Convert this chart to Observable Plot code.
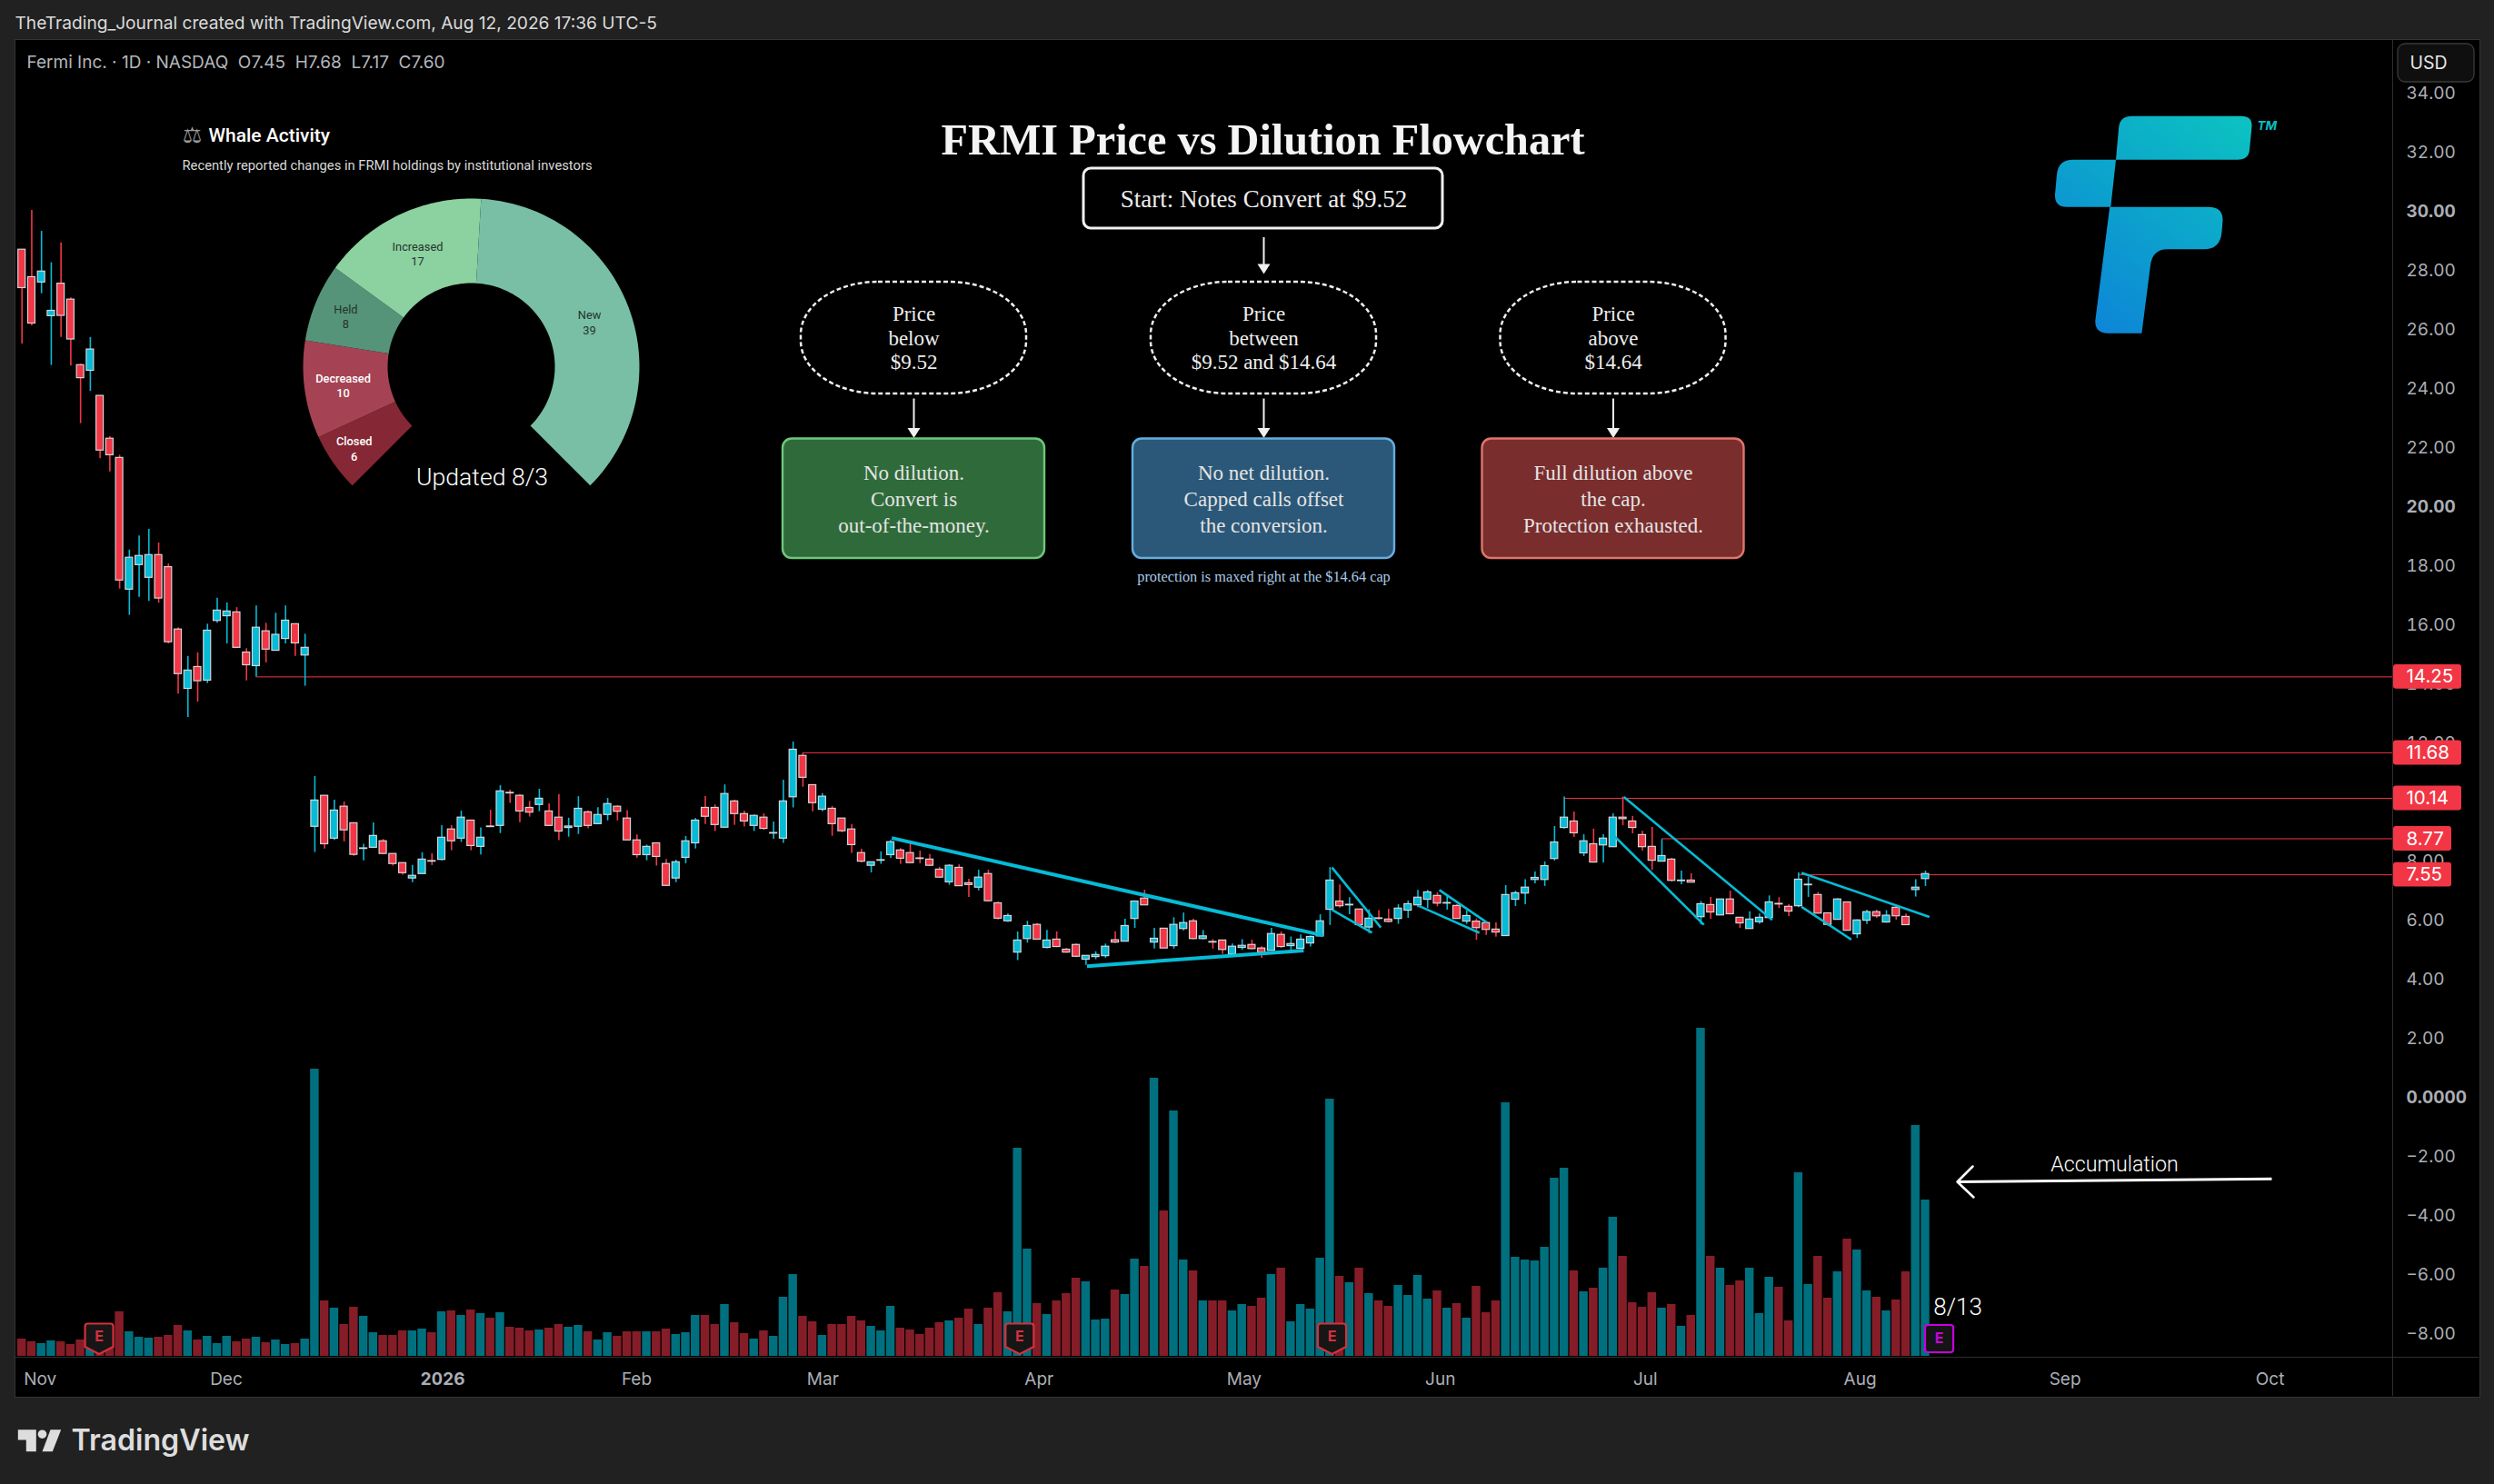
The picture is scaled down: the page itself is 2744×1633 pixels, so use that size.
<!DOCTYPE html>
<html><head><meta charset="utf-8">
<script src="https://cdn.jsdelivr.net/npm/d3@7"></script>
<script src="https://cdn.jsdelivr.net/npm/@observablehq/plot@0.6"></script>
<style>
html,body{margin:0;padding:0;background:#212121;overflow:hidden}
#page{position:relative;width:2744px;height:1633px;background:#212121}
#panel{position:absolute;left:16px;top:43px;width:2711px;height:1493px;background:#000;border:1px solid #333}
#page svg{position:absolute;left:0;top:0}
</style></head><body><div id="page"><div id="panel"></div></div>
<script>
// ---- Daily candles (USD) ----
const opens=[28.67,27.74,27.56,26.42,27.52,26.98,24.76,24.57,23.72,22.27,
21.62,17.16,17.99,17.56,18.33,17.92,15.81,13.80,14.54,14.08,
16.10,16.26,16.39,15.03,14.57,15.75,15.09,15.49,15.99,14.93,
9.13,10.18,8.73,9.81,9.25,8.38,8.42,8.64,8.21,7.90,
7.38,7.53,7.97,8.01,9.04,8.73,9.34,8.45,9.14,9.16,
10.28,10.18,9.77,9.87,9.65,9.44,9.09,9.13,9.62,9.22,
9.53,9.81,9.41,8.67,8.17,8.57,7.87,7.38,8.08,8.57,
9.77,9.77,9.10,9.99,9.56,9.16,9.44,8.90,8.73,10.13,
11.53,10.54,9.71,9.74,9.41,9.04,8.24,7.81,7.98,8.17,
8.33,8.24,8.06,8.02,7.68,7.25,7.74,7.22,7.07,7.53,
6.54,5.93,4.87,5.33,5.81,5.03,5.31,4.97,5.13,4.63,
4.72,4.75,5.29,5.24,6.01,6.70,5.21,5.68,5.09,5.67,
5.93,5.33,5.23,5.28,4.81,5.03,5.13,5.01,4.93,5.47,
5.09,5.00,5.18,5.42,6.32,6.60,6.47,6.33,5.72,6.03,
5.99,6.01,6.29,6.47,6.66,6.79,6.53,6.45,5.92,5.92,
5.87,5.65,5.43,6.66,6.87,7.33,7.33,8.04,9.09,9.31,
8.23,8.54,8.50,8.44,9.44,9.31,8.85,8.45,7.95,8.02,
7.29,7.31,6.07,6.48,6.13,6.67,6.05,5.67,5.90,6.04,
6.52,6.42,6.44,7.15,6.82,6.20,5.98,6.57,5.49,5.95,
6.24,5.89,6.39,6.08,6.99,7.36];
const closes=[27.37,26.17,27.93,26.60,26.43,25.63,24.32,25.29,21.87,21.71,
17.47,18.24,18.30,18.33,16.86,15.38,14.30,14.42,14.06,15.77,
16.45,16.42,15.19,14.60,15.87,15.13,15.63,16.11,15.34,15.19,
10.02,8.54,9.68,9.01,8.18,8.40,8.82,8.21,7.87,7.56,
7.47,8.02,7.95,8.76,8.64,9.44,8.48,8.76,9.12,10.33,
10.26,9.65,9.61,10.08,9.16,8.97,9.14,9.74,9.16,9.53,
9.90,9.64,8.67,8.17,8.45,8.11,7.13,7.93,8.64,9.34,
9.47,9.19,10.24,9.56,9.31,9.50,9.06,8.92,9.99,11.74,
10.79,9.93,10.15,9.22,8.98,8.51,7.95,7.93,8.00,8.61,
8.05,7.90,8.04,7.81,7.41,7.81,7.12,7.16,7.41,6.61,
6.02,6.11,5.28,5.77,5.31,5.28,5.06,4.87,4.73,4.76,
4.79,5.07,5.21,5.77,6.60,6.47,5.34,5.01,5.81,5.87,
5.33,5.42,5.21,4.96,5.07,5.10,4.99,4.87,5.50,5.06,
5.16,5.31,5.40,5.93,7.31,6.44,6.49,5.80,6.02,6.01,
5.91,6.36,6.51,6.73,6.91,6.53,6.55,6.01,6.11,5.70,
5.64,5.55,6.82,6.88,7.07,7.40,7.80,8.60,9.44,8.91,
8.64,7.92,8.73,9.44,9.39,9.09,8.44,7.98,8.14,7.30,
7.31,7.24,6.51,6.23,6.67,6.17,5.86,5.99,6.05,6.57,
6.50,6.26,7.34,7.17,6.19,5.81,6.67,5.61,5.96,6.24,
6.10,6.12,6.10,5.80,7.07,7.53];
const highs=[28.67,30.00,29.29,28.23,28.90,27.04,24.79,25.70,23.72,22.34,
21.71,18.50,18.98,19.20,18.74,18.03,15.87,14.90,15.02,15.99,
16.87,16.71,16.55,15.16,16.61,16.02,16.36,16.61,15.99,15.65,
10.83,10.18,10.03,9.97,9.26,8.54,9.26,8.70,8.22,7.91,
7.82,8.25,8.22,9.17,9.17,9.66,9.34,9.09,9.69,10.52,
10.37,10.22,9.99,10.40,9.91,10.22,9.42,10.15,9.67,9.78,
10.09,9.84,9.68,8.85,8.51,8.57,8.02,8.00,8.80,9.41,
10.15,9.87,10.55,10.03,9.66,9.53,9.57,9.29,10.71,12.00,
11.62,10.54,10.25,9.82,9.41,9.21,8.37,7.93,8.28,8.67,
8.39,8.65,8.31,8.19,7.76,7.85,7.84,7.35,7.66,7.66,
6.58,6.18,5.57,5.93,5.85,5.62,5.57,5.01,5.16,4.76,
4.90,5.16,5.57,6.00,6.62,6.98,5.69,5.69,6.05,6.21,
6.00,5.62,5.31,5.29,5.16,5.31,5.29,5.07,5.69,5.57,
5.40,5.47,5.44,6.15,7.75,7.16,6.73,6.34,6.32,6.29,
6.34,6.49,6.62,6.98,6.98,6.90,6.77,6.49,6.29,6.01,
5.88,5.88,7.14,6.95,7.34,7.60,7.94,9.14,10.14,9.63,
8.86,9.05,8.86,9.57,10.14,9.48,8.98,9.11,8.70,8.06,
7.63,7.54,6.60,6.74,6.68,6.95,6.06,6.25,6.18,6.79,
6.73,6.49,7.57,7.42,6.91,6.21,6.70,6.58,5.98,6.31,
6.31,6.29,6.44,6.18,7.34,7.63];
const lows=[25.48,26.09,27.18,24.75,25.70,24.73,22.78,23.87,21.59,21.15,
17.18,16.29,16.90,16.76,16.70,15.32,13.62,12.83,13.35,13.98,
16.02,15.32,15.19,14.07,14.20,14.68,15.09,15.32,14.90,13.89,
8.26,8.38,8.67,8.62,8.13,7.98,8.41,8.20,7.80,7.49,
7.24,7.52,7.82,7.98,8.32,8.60,8.32,8.18,9.12,8.90,
9.92,9.27,9.46,9.64,9.15,8.66,8.78,8.87,9.06,9.21,
9.33,9.33,8.66,8.07,7.98,7.80,7.13,7.24,7.88,8.38,
9.21,8.97,9.09,9.18,9.12,8.97,9.01,8.71,8.57,9.77,
10.47,9.64,9.64,8.81,8.93,8.23,7.91,7.57,7.86,8.06,
7.86,7.90,7.88,7.80,7.39,7.15,7.12,6.74,6.96,6.59,
5.98,5.89,4.60,5.19,5.29,5.00,5.04,4.85,4.70,4.44,
4.63,4.68,5.18,5.24,5.69,6.47,4.99,5.01,4.99,5.60,
5.31,5.30,4.99,4.81,4.81,4.95,4.97,4.68,4.93,5.01,
4.95,5.00,5.06,5.42,5.79,6.38,6.15,5.80,5.52,5.98,
5.88,5.83,6.03,6.39,6.36,6.42,6.31,6.01,5.83,5.29,
5.45,5.39,5.42,6.43,6.49,7.20,7.11,7.97,9.05,8.77,
8.12,7.90,7.91,8.44,9.17,8.89,8.31,7.65,7.94,7.26,
7.17,7.23,5.81,6.00,6.12,6.15,5.69,5.66,5.83,6.03,
6.36,6.09,6.39,6.74,6.18,5.77,5.98,5.60,5.35,5.82,
6.03,5.87,5.97,5.79,6.75,7.11];
// Volume, in millions of shares (estimated)
const volumes=[1.9,1.6,1.4,1.7,1.6,1.3,1.8,1.2,1.2,1.2,
4.9,2.7,2.1,2.0,2.1,2.3,3.4,2.8,1.8,2.2,
1.4,2.2,1.6,1.9,2.1,1.5,1.8,1.3,1.4,1.9,
31.6,6.1,5.3,3.5,5.4,4.4,2.6,2.3,2.3,2.8,
2.8,3.0,2.6,4.9,5.0,4.5,5.1,4.7,4.2,4.8,
3.2,3.1,2.8,2.9,3.1,3.5,3.2,3.4,2.7,1.8,
2.6,2.2,2.7,2.7,2.7,2.7,3.0,2.4,2.6,4.5,
4.5,3.5,5.7,3.7,2.5,1.9,2.8,2.2,6.5,9.0,
4.4,3.8,2.3,3.5,3.5,4.4,3.9,3.3,2.8,5.5,
3.1,2.9,2.4,3.1,3.7,3.9,4.2,5.2,3.5,5.3,
7.0,4.9,22.9,11.8,5.8,4.6,6.1,6.9,8.6,8.2,
4.0,4.1,7.3,6.8,10.7,9.9,30.6,16.0,27.0,10.6,
9.4,6.1,6.1,6.1,5.0,5.7,5.5,6.4,9.0,9.7,
3.8,5.7,5.2,10.8,28.3,8.8,8.1,9.7,6.9,6.1,
5.5,7.8,6.7,8.9,6.3,7.2,5.3,5.8,4.2,7.7,
4.8,6.1,27.9,10.9,10.6,10.5,12.0,19.6,20.7,9.4,
7.1,7.5,9.7,15.3,11.0,5.9,5.4,7.0,5.3,5.7,
3.3,4.5,36.1,11.0,9.7,7.8,8.3,9.7,4.7,8.7,
7.6,3.9,20.2,7.9,11.0,6.4,9.3,12.9,11.7,7.2,
6.5,5.0,6.2,9.3,25.4,17.2];

// Axes
const monthBars=[1.87,20.93,43.09,62.97,82.04,104.2,125.2,145.3,166.3,188.3,209.3,230.3];
const monthLabels=["Nov","Dec","2026","Feb","Mar","Apr","May","Jun","Jul","Aug","Sep","Oct"];
const boldPrices=[30,20,0];
const plainPrices=[34,32,28,26,24,22,18,16,14,12,8,6,4,2,-2,-4,-6,-8];

// Resistance levels
const levelPrices=[14.25,11.68,10.14,8.77,7.55];
const levelStartBars=[24,80,158,168,182];

// Drawn trend lines [startBar,startPrice,endBar,endPrice]
const wedgeLines=[[89.1,8.75,133.3,5.45],[109.1,4.41,131.3,4.94]];
const flagLines=[[134.2,7.75,139.2,5.72],[134.2,6.32,138.3,5.54],
 [145.2,6.99,150.1,5.88],[143.1,6.45,149.3,5.54],
 [164.1,10.14,179.3,5.98],[163.1,8.82,172.3,5.81],
 [182.3,7.57,195.4,6.08],[182.3,6.42,187.4,5.31]];

const earningsBars=[7.9,102.2,134.2];
const nextEarningsBar=[196.4];

// Whale activity
const whaleNames=["Closed","Decreased","Held","Increased","New"];
const whaleCounts=[6,10,8,17,39];
const whaleColors=["#852734","#A54354","#559478","#8CD1A0","#78BFA6"];
const whaleInk=["#fff","#fff","#26332c","#26332c","#26332c"];
const whaleLabelWeight=[500,500,400,400,400];
const whaleLabelAngle=[-124.9,-98.1,-67.9,-25.3,69.3];
const whaleLabelRadius=[157,142.4,149,138,139];

// Flowchart text
const flowTitle="FRMI Price vs Dilution Flowchart";
const startText="Start: Notes Convert at $9.52";
const questionTexts=["Price\nbelow\n$9.52","Price\nbetween\n$9.52 and $14.64","Price\nabove\n$14.64"];
const outcomeTexts=["No dilution.\nConvert is\nout-of-the-money.","No net dilution.\nCapped calls offset\nthe conversion.","Full dilution above\nthe cap.\nProtection exhausted."];
const outcomeFills=["#2F6B3A","#2B5878","#792D2D"];
const outcomeStrokes=["#6EC87A","#66AEE0","#E0756A"];
const flowColumns=[1005,1390,1774.5];

// ---- shared ----
const CYAN="#06BBD6", RED="#F23645", AXIS="#ABAEB5", SANS="Inter", ROBOTO="Roboto", SERIF="Liberation Serif";
const W=2744,H=1633;
const barOf=px=>(px-23.7)/10.74;
const xDomain=[barOf(17),barOf(2632)];
const bars=opens.map((o,i)=>({i,o,c:closes[i],h:highs[i],l:lows[i],v:volumes[i],up:closes[i]>=o}));
const base={width:W,height:H,marginLeft:0,marginRight:0,marginTop:0,marginBottom:0,
  style:{background:"transparent",overflow:"visible",maxWidth:"none"},color:{type:"identity"}};
const page=document.getElementById("page");

// ---- volume layer ----
page.append(Plot.plot({...base,
  x:{domain:xDomain,range:[17,2632],axis:null},
  y:{domain:[0,36.1],range:[1492,1131],axis:null},
  marks:[Plot.rect(bars,{x1:d=>d.i-.44,x2:d=>d.i+.44,y1:0,y2:"v",fill:d=>d.up?"#00707F":"#851D28"})]
}));

// ---- price layer ----
const shield={draw(c){c.moveTo(-12.5,-16.5);c.lineTo(12.5,-16.5);c.quadraticCurveTo(15.5,-16.5,15.5,-13.5);c.lineTo(15.5,9);c.lineTo(0,17);c.lineTo(-15.5,9);c.lineTo(-15.5,-13.5);c.quadraticCurveTo(-15.5,-16.5,-12.5,-16.5);c.closePath();}};
const square={draw(c){c.moveTo(-12.5,-15);c.lineTo(12.5,-15);c.quadraticCurveTo(15.5,-15,15.5,-12);c.lineTo(15.5,12);c.quadraticCurveTo(15.5,15,12.5,15);c.lineTo(-12.5,15);c.quadraticCurveTo(-15.5,15,-15.5,12);c.lineTo(-15.5,-12);c.quadraticCurveTo(-15.5,-15,-12.5,-15);c.closePath();}};
const EARN_Y=-8.2;
const fmt=d=>d===0?"0.0000":(d<0?"\u2212":"")+Math.abs(d).toFixed(2);
const axisFont={fontFamily:SANS,fontSize:19};
page.append(Plot.plot({...base,
  marginLeft:17,marginRight:W-2632,marginTop:44,marginBottom:H-1493,
  x:{domain:xDomain},
  y:{domain:[-8.831,35.754]},
  marks:[
    Plot.axisY({anchor:"right",ticks:plainPrices,tickSize:0,tickPadding:15,tickFormat:fmt,label:null,color:AXIS,dy:1.5,...axisFont}),
    Plot.axisY({anchor:"right",ticks:boldPrices,tickSize:0,tickPadding:15,tickFormat:fmt,label:null,color:AXIS,fontWeight:700,dy:1.5,...axisFont}),
    Plot.axisX({ticks:monthBars.filter(b=>b!==monthBars[2]),tickSize:0,tickPadding:16.5,label:null,color:AXIS,tickFormat:b=>monthLabels[monthBars.indexOf(b)],...axisFont}),
    Plot.axisX({ticks:[monthBars[2]],tickSize:0,tickPadding:16.5,label:null,color:AXIS,fontWeight:700,tickFormat:()=>monthLabels[2],...axisFont}),
    Plot.ruleY(levelPrices,{y:d=>d,dy:1.5,x1:(d,i)=>levelStartBars[i],x2:xDomain[1],stroke:RED,strokeWidth:1}),
    Plot.ruleX(bars,{x:"i",y1:"l",y2:"h",stroke:d=>d.up?CYAN:RED,strokeWidth:1.6}),
    Plot.rect(bars,{x1:d=>d.i-.37,x2:d=>d.i+.37,y1:d=>Math.min(d.o,d.c),y2:d=>Math.max(d.o,d.c),fill:d=>d.up?CYAN:RED,stroke:"#D4D6DA",strokeWidth:1.2}),
    Plot.link(wedgeLines,{x1:d=>d[0],y1:d=>d[1],x2:d=>d[2],y2:d=>d[3],stroke:CYAN,strokeWidth:4}),
    Plot.link(flagLines,{x1:d=>d[0],y1:d=>d[1],x2:d=>d[2],y2:d=>d[3],stroke:CYAN,strokeWidth:2.6}),
    Plot.rect(levelPrices,{x1:barOf(2633),x2:d=>d>=10?barOf(2708):barOf(2697),y1:d=>d-.415,y2:d=>d+.415,dy:1.5,fill:RED,rx:3}),
    Plot.text(levelPrices,{x:barOf(2647),y:d=>d,dy:1.5,text:d=>d.toFixed(2),textAnchor:"start",fill:"#fff",fontFamily:SANS,fontSize:20.5}),
    Plot.dot(earningsBars,{x:d=>d,y:EARN_Y,symbol:shield,fill:"#161616",stroke:"#D6303C",strokeWidth:2.2}),
    Plot.text(earningsBars,{x:d=>d,y:EARN_Y,dy:-2,text:()=>"E",fill:"#D6303C",fontFamily:SANS,fontWeight:700,fontSize:16}),
    Plot.dot(nextEarningsBar,{x:d=>d,y:EARN_Y,symbol:square,fill:"#141414",stroke:"#C800E0",strokeWidth:2.2}),
    Plot.text(nextEarningsBar,{x:d=>d,y:EARN_Y,text:()=>"E",fill:"#C800E0",fontFamily:SANS,fontWeight:700,fontSize:16})
  ]
}));

// ---- annotation layer: donut, flowchart, logos, text ----
const C={x:518,y:403,r0:92,r1:185};
const total=d3.sum(whaleCounts);
let a0=-135;
const whaleSlices=whaleNames.map((name,k)=>{const sweep=whaleCounts[k]/total*270;const s={name,k,a0,a1:a0+sweep};a0+=sweep;return s;});
const polar=(r,a)=>[C.x+r*Math.sin(a*Math.PI/180),C.y-r*Math.cos(a*Math.PI/180)];
const whaleOutline=whaleSlices.flatMap(s=>{
  const t=d3.range(0,61).map(j=>s.a0+(s.a1-s.a0)*j/60);
  return [...t.map(a=>polar(C.r1,a)),...t.reverse().map(a=>polar(C.r0,a))].map(p=>({x:p[0],y:p[1],k:s.k}));
});
const whaleLabelMark=w=>Plot.text(whaleSlices.filter(s=>whaleLabelWeight[s.k]===w),{
  x:s=>polar(whaleLabelRadius[s.k],whaleLabelAngle[s.k])[0],
  y:s=>polar(whaleLabelRadius[s.k],whaleLabelAngle[s.k])[1],
  text:s=>s.name+"\n"+whaleCounts[s.k],fill:s=>whaleInk[s.k],fontFamily:ROBOTO,fontWeight:w,fontSize:12.8,lineHeight:1.27});
const T=(s,x,y,o={})=>Plot.text([s],{x,y,text:d=>d,...o});
const serif={fontFamily:SERIF};
const questionBoxes=flowColumns.map((x,i)=>({x,i}));
const logoMark=()=>{
  const g=d3.create("svg:g");
  g.html(`<defs><linearGradient id="fg" gradientUnits="userSpaceOnUse" x1="2480" y1="128" x2="2300" y2="367"><stop offset="0" stop-color="#0BC4C0"/><stop offset="1" stop-color="#0D84D8"/></linearGradient></defs>
  <path fill="url(#fg)" d="M2328,175.7 L2331.2,140 Q2332.5,127.7 2346,127.7 L2466,127.7 Q2478,127.7 2477.5,139 L2475,165 Q2474,175.7 2462,175.7 Z M2328,175.7 L2322.3,227.7 L2274,227.7 Q2260.5,227.7 2261,214 L2263,192 Q2264.5,175.7 2281,175.7 Z M2321.2,227.7 L2430,227.7 Q2446,227.7 2445.5,243 L2444.5,255 Q2443,274.3 2425,274.3 L2385,274.3 Q2368,274.3 2366,292 L2356.4,366.7 L2319,366.7 Q2305,366.7 2305.3,353 Z"/>`);
  return g.node();
};
const head={draw(c){c.moveTo(0,0);c.lineTo(-7,-11);c.lineTo(7,-11);c.closePath();}};
const tvT=[[19.3,1572.7],[39.3,1572.7],[39.3,1596.7],[28.3,1596.7],[28.3,1584],[19.3,1584]];
const tvV=[[55,1572.7],[66.7,1572.7],[57.3,1596.7],[46,1596.7]];
const arrowPts=[[2170,1283],[2153,1300],[2171,1317]];
page.append(Plot.plot({...base,
  x:{type:"identity",axis:null},y:{type:"identity",axis:null},
  marks:[
    // frame lines
    Plot.ruleX([2632],{y1:44,y2:1536,stroke:"#2E2E2E"}),
    Plot.ruleY([1493],{x1:17,x2:2727,stroke:"#2E2E2E"}),
    // header
    T("TheTrading_Journal created with TradingView.com, Aug 12, 2026 17:36 UTC-5",16,25.5,{textAnchor:"start",fill:"#DADADA",fontFamily:SANS,fontSize:19.15}),
    T("Fermi Inc. \u00B7 1D \u00B7 NASDAQ\u00A0\u00A0O7.45\u00A0\u00A0H7.68\u00A0\u00A0L7.17\u00A0\u00A0C7.60",29,68,{textAnchor:"start",fill:"#B4B6BB",fontFamily:SANS,fontSize:19}),
    Plot.rect([0],{x1:2638,x2:2722,y1:48,y2:90,rx:8,fill:"#0F0F0F",stroke:"#3A3A3A",strokeWidth:1.3}),
    T("USD",2651,69.5,{textAnchor:"start",fill:"#E6E6E6",fontFamily:SANS,fontSize:19.5}),
    // whale
    T("\u2696",211,149,{fill:"#9A9A9A",fontFamily:"DejaVu Sans",fontSize:24}),
    T("Whale Activity",229,148.5,{textAnchor:"start",fill:"#fff",fontFamily:ROBOTO,fontWeight:500,fontSize:21}),
    T("Recently reported changes in FRMI holdings by institutional investors",200,182,{textAnchor:"start",fill:"#D8D8D8",fontFamily:ROBOTO,fontSize:14.75}),
    Plot.line(whaleOutline,{x:"x",y:"y",z:"k",fill:d=>whaleColors[d.k],stroke:"none",curve:"linear-closed"}),
    whaleLabelMark(500),whaleLabelMark(400),
    T("Updated 8/3",530,525,{fill:"#fff",fontFamily:ROBOTO,fontWeight:300,fontSize:26.6}),
    // flowchart
    T(flowTitle,1389,154,{fill:"#F4F4F4",fontWeight:700,fontSize:48.3,...serif}),
    Plot.rect([0],{x1:1192,x2:1587,y1:185,y2:251,rx:8,fill:"#000",stroke:"#F0F0F0",strokeWidth:3}),
    T(startText,1390,218.5,{fill:"#EDEDED",fontSize:27,...serif}),
    Plot.ruleX([1390],{y1:261,y2:292,stroke:"#F0F0F0",strokeWidth:2}),
    Plot.dot([1390],{x:d=>d,y:301,symbol:head,fill:"#F0F0F0",stroke:"none"}),
    Plot.rect(questionBoxes,{x1:d=>d.x-124,x2:d=>d.x+124,y1:310,y2:433,rx:85,ry:58,fill:"none",stroke:"#F0F0F0",strokeWidth:2.5,strokeDasharray:"5,3"}),
    Plot.text(questionBoxes,{x:"x",y:370.8,text:d=>questionTexts[d.i],fill:"#EDEDED",fontSize:23,lineHeight:1.15,...serif}),
    Plot.ruleX(flowColumns,{x:d=>d,y1:438.5,y2:472,stroke:"#F0F0F0",strokeWidth:2}),
    Plot.dot(flowColumns,{x:d=>d,y:481.6,symbol:head,fill:"#F0F0F0",stroke:"none"}),
    Plot.rect(questionBoxes,{x1:d=>d.x-144,x2:d=>d.x+144,y1:482.5,y2:614,rx:10,fill:d=>outcomeFills[d.i],stroke:d=>outcomeStrokes[d.i],strokeWidth:2.4}),
    Plot.text(questionBoxes,{x:"x",y:547,text:d=>outcomeTexts[d.i],fill:"#E4E4E4",fontSize:23,lineHeight:1.26,...serif}),
    T("protection is maxed right at the $14.64 cap",1390,634,{fill:"#A9C9E8",fontSize:16.3,...serif}),
    // fermi logo
    logoMark,
    T("TM",2483,138,{textAnchor:"start",fill:"#0BBFC0",fontFamily:SANS,fontWeight:700,fontStyle:"italic",fontSize:13.5}),
    // notes
    T("Accumulation",2326,1281,{fill:"#fff",fontFamily:ROBOTO,fontWeight:300,fontSize:23.2}),
    Plot.link([0],{x1:2153,y1:1300,x2:2499,y2:1296.7,stroke:"#fff",strokeWidth:3}),
    Plot.line(arrowPts,{x:d=>d[0],y:d=>d[1],stroke:"#fff",strokeWidth:2.5}),
    T("8/13",2153.5,1438,{fill:"#fff",fontFamily:ROBOTO,fontWeight:300,fontSize:26}),
    // footer
    Plot.line(tvT,{x:d=>d[0],y:d=>d[1],fill:"#DDD",stroke:"none",curve:"linear-closed"}),
    Plot.dot([46],{x:d=>d,y:1577.7,r:4.8,fill:"#DDD",stroke:"none"}),
    Plot.line(tvV,{x:d=>d[0],y:d=>d[1],fill:"#DDD",stroke:"none",curve:"linear-closed"}),
    T("TradingView",78,1585,{textAnchor:"start",fill:"#DDD",fontFamily:SANS,fontWeight:600,fontSize:32.2})
  ]
}));
</script></body></html>
